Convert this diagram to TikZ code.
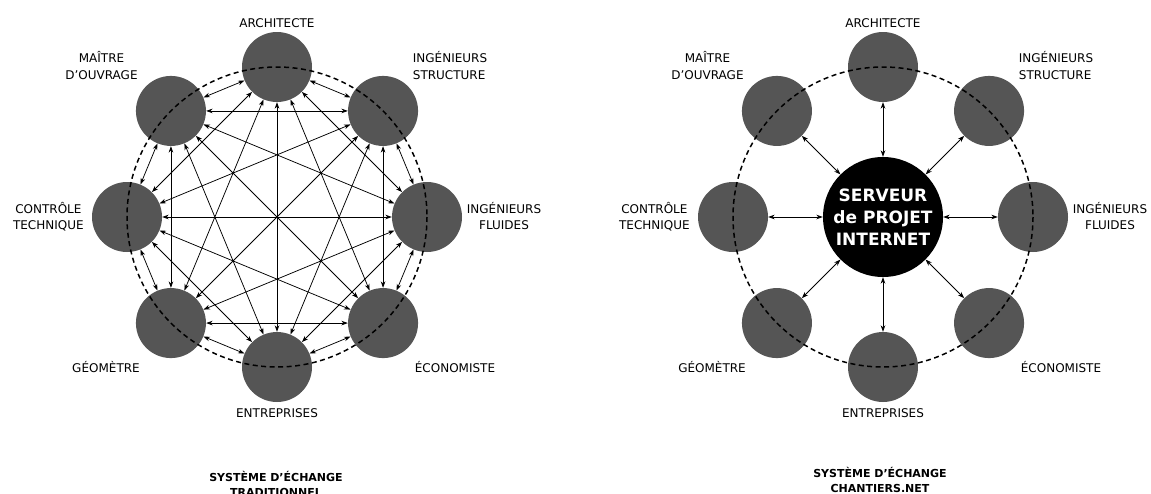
\documentclass[tikz,border=0pt]{standalone}
\usepackage{fontspec}
\setmainfont{DejaVu Sans}
\usetikzlibrary{arrows.meta}
\definecolor{nodegray}{RGB}{85,85,85}
\tikzset{
  member/.style={circle, fill=nodegray, minimum size=70pt, inner sep=0pt},
  server/.style={circle, fill=black, minimum size=120pt, inner sep=0pt, text=white,
    font=\bfseries\fontsize{17}{21.7}\selectfont, align=center},
  ring/.style={line width=1.5pt, dash pattern=on 5pt off 3.5pt},
  link/.style={line width=0.75pt, {Stealth[length=6.5pt,width=4.6pt]}-{Stealth[length=6.5pt,width=4.6pt]}},
  lab/.style={font=\fontsize{12}{16.5}\selectfont, align=center, inner sep=0pt, anchor=base},
  labl/.style={lab, align=left, anchor=base west},
  title/.style={font=\bfseries\fontsize{11}{15}\selectfont, align=center, inner sep=0pt, anchor=base},
}
\begin{document}
\begin{tikzpicture}[x=1pt,y=-1pt]
\useasboundingbox (0,0) rectangle (1151,493);
\foreach \p/\cx in {l/277,r/883}{
  \begin{scope}[shift={(\cx,217)}]
    \foreach \ang [count=\i] in {-90,-45,0,45,90,135,180,225}
      \node[member] (\p\i) at (\ang:150) {};
    \draw[ring] (0,0) circle[radius=150];
    \node[lab] (\p A) at (0,-190) {ARCHITECTE};
    \node[lab] (\p M) at (-175.5,-137.7) {MAÎTRE\\D'OUVRAGE};
    \node[labl] (\p S) at (135.7,-137.7) {INGÉNIEURS\\STRUCTURE};
    \node[lab] (\p C) at (-228.6,12.5) {CONTRÔLE\\TECHNIQUE};
    \node[lab] (\p F) at (227,12.5) {INGÉNIEURS\\FLUIDES};
    \node[lab] (\p G) at (-171,155.5) {GÉOMÈTRE};
    \node[lab] (\p E) at (178,155.5) {ÉCONOMISTE};
    \node[lab] (\p N) at (0,200) {ENTREPRISES};
  \end{scope}
}
% traditional exchange: every actor linked to every other
\foreach \i in {1,...,7}{
  \pgfmathtruncatemacro{\k}{\i+1}
  \foreach \j in {\k,...,8}{
    \draw[link] (l\i) -- (l\j);
  }
}
% chantiers.net: all through the server
\node[server] (srv) at (883,217) {SERVEUR\\de PROJET\\INTERNET};
\foreach \i in {1,...,8}
  \draw[link] (srv) -- (r\i);
\node[title] (lt) at (276,496) {SYSTÈME D'ÉCHANGE\\TRADITIONNEL};
\node[title] (rt) at (880,492) {SYSTÈME D'ÉCHANGE\\CHANTIERS.NET};
\end{tikzpicture}
\end{document}
